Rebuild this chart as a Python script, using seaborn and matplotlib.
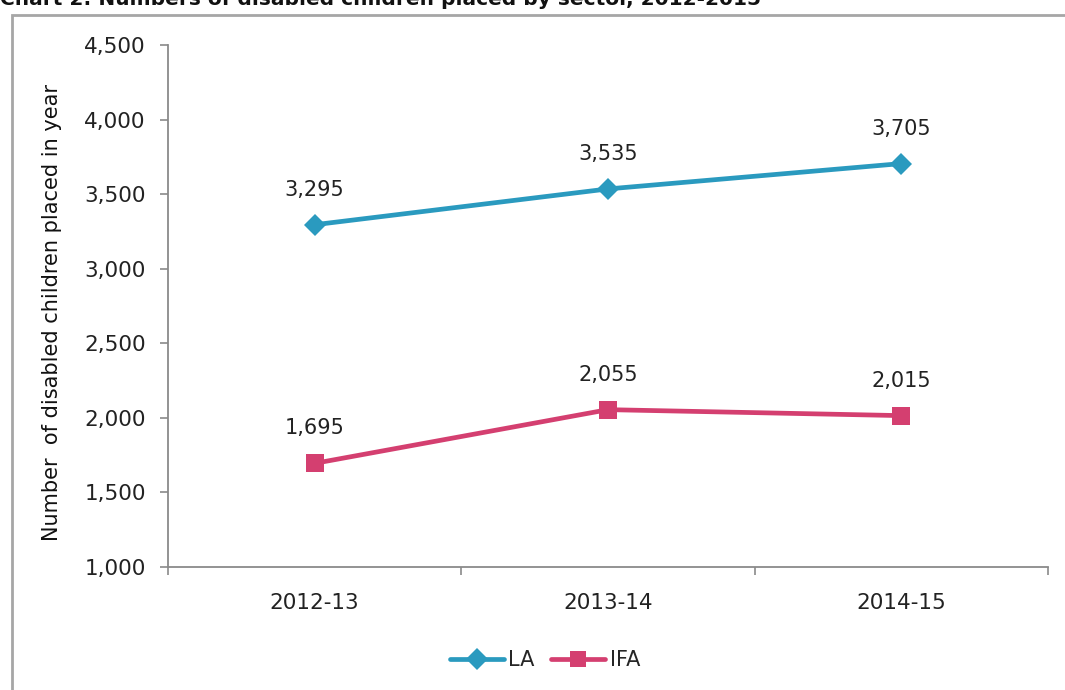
import pandas as pd
import matplotlib.pyplot as plt
import seaborn as sns
from matplotlib.patches import Rectangle

# Data
years = ['2012-13', '2013-14', '2014-15']
la_values = [3295, 3535, 3705]
ifa_values = [1695, 2055, 2015]
series_names = ['LA', 'IFA']

df = pd.DataFrame({
    'Year': years * 2,
    'Placed': la_values + ifa_values,
    'Sector': [series_names[0]] * 3 + [series_names[1]] * 3,
})

sns.set_theme(style="white")
plt.rcParams['font.family'] = ['DejaVu Sans']

fig = plt.figure(figsize=(10.65, 6.9), dpi=100)
ax = fig.add_axes([168 / 1065, 1 - 567 / 690, 880 / 1065, 522 / 690])

colors = {'LA': '#2a9abf', 'IFA': '#d43f70'}
marker_map = {'LA': 'D', 'IFA': 's'}
sns.lineplot(data=df, x='Year', y='Placed', hue='Sector', style='Sector',
             palette=colors, markers=marker_map, dashes=False,
             linewidth=3.4, markersize=11, markeredgewidth=0, ax=ax, legend=False)

# square markers look a bit larger in the original
for line in ax.lines:
    if line.get_marker() == 's':
        line.set_markersize(13)

# value labels
for vals in (la_values, ifa_values):
    for i, v in enumerate(vals):
        ax.annotate(f'{v:,}', (i, v), xytext=(0, 18), textcoords='offset points',
                    ha='center', va='bottom', fontsize=15, color='#222222')

ax.set_xlim(-0.5, 2.5)
ax.set_ylim(1000, 4500)
ax.set_yticks(range(1000, 4501, 500))
ax.set_yticklabels([f'{t:,}' for t in range(1000, 4501, 500)])
ax.set_xticks(range(len(years)))
ax.set_xticklabels(years)
ax.set_xticks([-0.5, 0.5, 1.5, 2.5], minor=True)
ax.tick_params(axis='x', which='major', length=0, pad=19, labelsize=15.5, labelcolor='#222222')
ax.tick_params(axis='x', which='minor', length=6, width=1.2, color='#8a8a8a', direction='out', bottom=True)
ax.tick_params(axis='y', length=6, width=1.2, color='#8a8a8a', direction='out', left=True,
               pad=10, labelsize=15.5, labelcolor='#222222')

for s in ['top', 'right']:
    ax.spines[s].set_visible(False)
for s in ['left', 'bottom']:
    ax.spines[s].set_color('#8a8a8a')
    ax.spines[s].set_linewidth(1.3)

ax.set_xlabel('')
ax.set_ylabel('Number  of disabled children placed in year', fontsize=15,
              color='#111111')
ax.yaxis.set_label_coords(-0.121, 0.487)

# legend below the chart
handles = [plt.Line2D([], [], color=colors[n], marker=marker_map[n],
                      markersize=11 if n == 'LA' else 12, lw=3.4, markeredgewidth=0)
           for n in series_names]
fig.legend(handles, series_names, loc='center', bbox_to_anchor=(545 / 1065, 1 - 660 / 690),
           ncol=2, frameon=False, fontsize=15, handlelength=2.6, handletextpad=0.2,
           columnspacing=0.8)

# outer chart frame and clipped title
fig.patches.append(Rectangle((12 / 1065, -0.05), 1.1, 1 - 15 / 690 + 0.05, transform=fig.transFigure,
                             fill=False, edgecolor='#a6a6a6', linewidth=2))
fig.text(0.0, 1 - 5 / 690, 'Chart 2: Numbers of disabled children placed by sector, 2012-2015',
         fontsize=14.5, fontweight='bold', ha='left', va='baseline', color='#111111')

fig.savefig('out.png', dpi=100)
